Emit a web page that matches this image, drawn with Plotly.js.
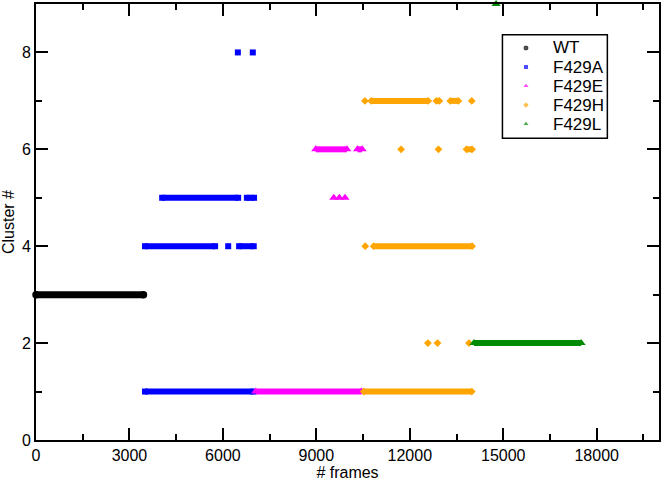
<!DOCTYPE html>
<html>
<head>
<meta charset="utf-8">
<script src="https://cdn.plot.ly/plotly-3.0.1.min.js"></script>
<style>
  body { margin: 0; background: #fff; }
  #plotArea { width: 662px; height: 481px; }
</style>
</head>
<body>
<div id="plotArea"></div>
<script>
// runs of frames spent in each cluster (start frame, end frame, cluster #)
var wtStart = [0];
var wtEnd = [3450];
var wtCluster = [3];

var aStart = [3500, 3500, 6170, 6520, 4050, 6770, 6480, 6960];
var aEnd = [6980, 5750, 6170, 6990, 6490, 7000, 6480, 6960];
var aCluster = [1, 4, 4, 4, 5, 5, 8, 8];

var eStart = [7050, 8980, 10320, 9560, 9740, 9920];
var eEnd = [10450, 9980, 10470, 9560, 9740, 9920];
var eCluster = [1, 6, 6, 5, 5, 5];

var hStart = [10520, 10570, 10840, 12580, 12890, 13900, 11720, 12920, 13820, 10560, 10760, 12850, 13300, 13990];
var hEnd = [13990, 10570, 14000, 12580, 12890, 13900, 11720, 12920, 14000, 10560, 12590, 12950, 13560, 13990];
var hCluster = [1, 4, 4, 2, 2, 2, 6, 6, 6, 7, 7, 7, 7, 7];

var lStart = [14060, 14770];
var lEnd = [17500, 14770];
var lCluster = [2, 9];

var seriesNames = ["WT", "F429A", "F429E", "F429H", "F429L"];
var seriesColors = ["#000000", "#0000ff", "#ff00ff", "#ffa500", "#008b00"];
var seriesSymbols = ["circle", "square", "triangle-up", "diamond", "triangle-up"];

var font = "Liberation Sans, Arial, sans-serif";

// a thick line for each run plus a marker at both ends
function runTraces(k, start, end, cluster, size, width) {
    var lx = [], ly = [], mx = [], my = [];
    for (var i = 0; i < start.length; i++) {
        lx.push(start[i], end[i], null);
        ly.push(cluster[i], cluster[i], null);
        mx.push(start[i]);
        my.push(cluster[i]);
        if (end[i] !== start[i]) {
            mx.push(end[i]);
            my.push(cluster[i]);
        }
    }
    var line = {
        x: lx, y: ly, mode: "lines", type: "scatter",
        line: {color: seriesColors[k], width: width},
        showlegend: false, hoverinfo: "skip", cliponaxis: false
    };
    var dots = {
        x: mx, y: my, mode: "markers", type: "scatter", name: seriesNames[k],
        marker: {color: seriesColors[k], symbol: seriesSymbols[k], size: size},
        showlegend: false, cliponaxis: false
    };
    return [line, dots];
}

var data = [].concat(
    runTraces(0, wtStart, wtEnd, wtCluster, 7.5, 7),
    runTraces(1, aStart, aEnd, aCluster, 6, 6),
    runTraces(2, eStart, eEnd, eCluster, 8, 6),
    runTraces(3, hStart, hEnd, hCluster, 6, 6),
    runTraces(4, lStart, lEnd, lCluster, 8, 6)
);

// legend box drawn by hand (grace style: tight rows, small symbols)
var legLeft = 0.7487, legRight = 0.9171, legTop = 0.9296, legBottom = 0.6920;
var legSymX = 0.7865, legTextX = 0.8266, legRow0 = 0.8991, legRowStep = 0.0436;
var legSizes = [6, 5, 6, 5, 6];
var legY = [], legX = [], annotations = [];
for (var k = 0; k < seriesNames.length; k++) {
    var yk = legRow0 - k * legRowStep;
    legX.push(legSymX);
    legY.push(yk);
    annotations.push({
        xref: "paper", yref: "paper", x: legTextX, y: yk,
        xanchor: "left", yanchor: "middle", showarrow: false,
        text: seriesNames[k], font: {family: font, size: 17, color: "#000"}
    });
}
data.push({
    x: legX, y: legY, xaxis: "x2", yaxis: "y2", mode: "markers", type: "scatter",
    marker: {color: seriesColors, symbol: seriesSymbols, size: legSizes},
    showlegend: false, hoverinfo: "skip", cliponaxis: false
});

var axisStyle = {
    showgrid: false, zeroline: false,
    showline: true, linewidth: 2, linecolor: "#000",
    mirror: "allticks",
    ticks: "inside", ticklen: 12, tickwidth: 2, tickcolor: "#000",
    tickformat: "d",
    tickfont: {family: font, size: 16, color: "#000"}
};

var layout = {
    width: 662, height: 481,
    margin: {l: 36, r: 3, t: 4, b: 41},
    paper_bgcolor: "#fff", plot_bgcolor: "#fff",
    font: {family: font, color: "#000"},
    xaxis: Object.assign({}, axisStyle, {
        range: [0, 20000], tick0: 0, dtick: 3000,
        minor: {dtick: 1500, ticks: "inside", ticklen: 6, tickwidth: 2, tickcolor: "#000"},
        title: {text: "# frames", font: {family: font, size: 16}, standoff: 2}
    }),
    yaxis: Object.assign({}, axisStyle, {
        range: [0, 9], tick0: 0, dtick: 2,
        minor: {dtick: 1, ticks: "inside", ticklen: 6, tickwidth: 2, tickcolor: "#000"},
        title: {text: "Cluster #", font: {family: font, size: 16}, standoff: 4}
    }),
    xaxis2: {overlaying: "x", range: [0, 1], visible: false, fixedrange: true},
    yaxis2: {overlaying: "y", range: [0, 1], visible: false, fixedrange: true},
    shapes: [{
        type: "rect", xref: "paper", yref: "paper",
        x0: legLeft, x1: legRight, y0: legBottom, y1: legTop,
        line: {color: "#000", width: 1.5}, fillcolor: "rgba(0,0,0,0)"
    }],
    annotations: annotations,
    showlegend: false
};

Plotly.newPlot("plotArea", data, layout, {displayModeBar: false, staticPlot: true});
</script>
</body>
</html>
